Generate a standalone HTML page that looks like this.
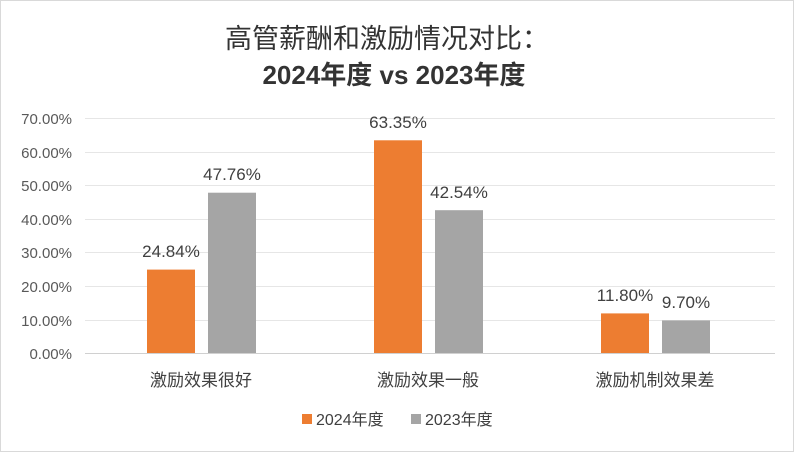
<!DOCTYPE html>
<html><head><meta charset="utf-8"><style>
body{margin:0;background:#fff;}
svg text{font-family:"Liberation Sans","Noto Sans CJK SC",sans-serif;}
</style></head><body>
<svg width="794" height="452" viewBox="0 0 794 452" xmlns="http://www.w3.org/2000/svg">
<rect x="0.5" y="0.5" width="793" height="451" fill="#fff" stroke="#d9d9d9"/>
<text x="387" y="48" font-size="27" text-anchor="middle" fill="#333">高管薪酬和激励情况对比：</text>
<text x="394" y="84" font-size="26" font-weight="bold" text-anchor="middle" fill="#333">2024年度 vs 2023年度</text>
<g stroke="#e6e6e6" stroke-width="1">
<line x1="85" x2="775" y1="118.5" y2="118.5"/>
<line x1="85" x2="775" y1="152.5" y2="152.5"/>
<line x1="85" x2="775" y1="185.5" y2="185.5"/>
<line x1="85" x2="775" y1="219.5" y2="219.5"/>
<line x1="85" x2="775" y1="252.5" y2="252.5"/>
<line x1="85" x2="775" y1="286.5" y2="286.5"/>
<line x1="85" x2="775" y1="320.5" y2="320.5"/>
</g>
<line x1="85" x2="775" y1="353.5" y2="353.5" stroke="#d0d0d0"/>
<g font-size="15" fill="#595959" text-anchor="end">
<text x="72" y="124">70.00%</text>
<text x="72" y="158">60.00%</text>
<text x="72" y="191">50.00%</text>
<text x="72" y="225">40.00%</text>
<text x="72" y="258">30.00%</text>
<text x="72" y="292">20.00%</text>
<text x="72" y="326">10.00%</text>
<text x="72" y="359">0.00%</text>
</g>
<g fill="#ED7D31">
<rect x="147" y="269.6" width="48" height="83.4"/>
<rect x="374" y="140.3" width="48" height="212.7"/>
<rect x="601" y="313.4" width="48" height="39.6"/>
</g>
<g fill="#A5A5A5">
<rect x="208" y="192.7" width="48" height="160.3"/>
<rect x="435" y="210.2" width="48" height="142.8"/>
<rect x="662" y="320.4" width="48" height="32.6"/>
</g>
<g font-size="17" fill="#404040" text-anchor="middle">
<text x="171" y="257">24.84%</text>
<text x="232" y="180">47.76%</text>
<text x="398" y="128">63.35%</text>
<text x="459" y="198">42.54%</text>
<text x="625" y="301">11.80%</text>
<text x="686" y="308">9.70%</text>
</g>
<g font-size="17" fill="#404040" text-anchor="middle">
<text x="201" y="386">激励效果很好</text>
<text x="428" y="386">激励效果一般</text>
<text x="655" y="386">激励机制效果差</text>
</g>
<rect x="302" y="414" width="10" height="10" fill="#ED7D31"/>
<text x="316" y="425" font-size="16" fill="#404040">2024年度</text>
<rect x="411" y="414" width="10" height="10" fill="#A5A5A5"/>
<text x="425" y="425" font-size="16" fill="#404040">2023年度</text>
</svg>
</body></html>
